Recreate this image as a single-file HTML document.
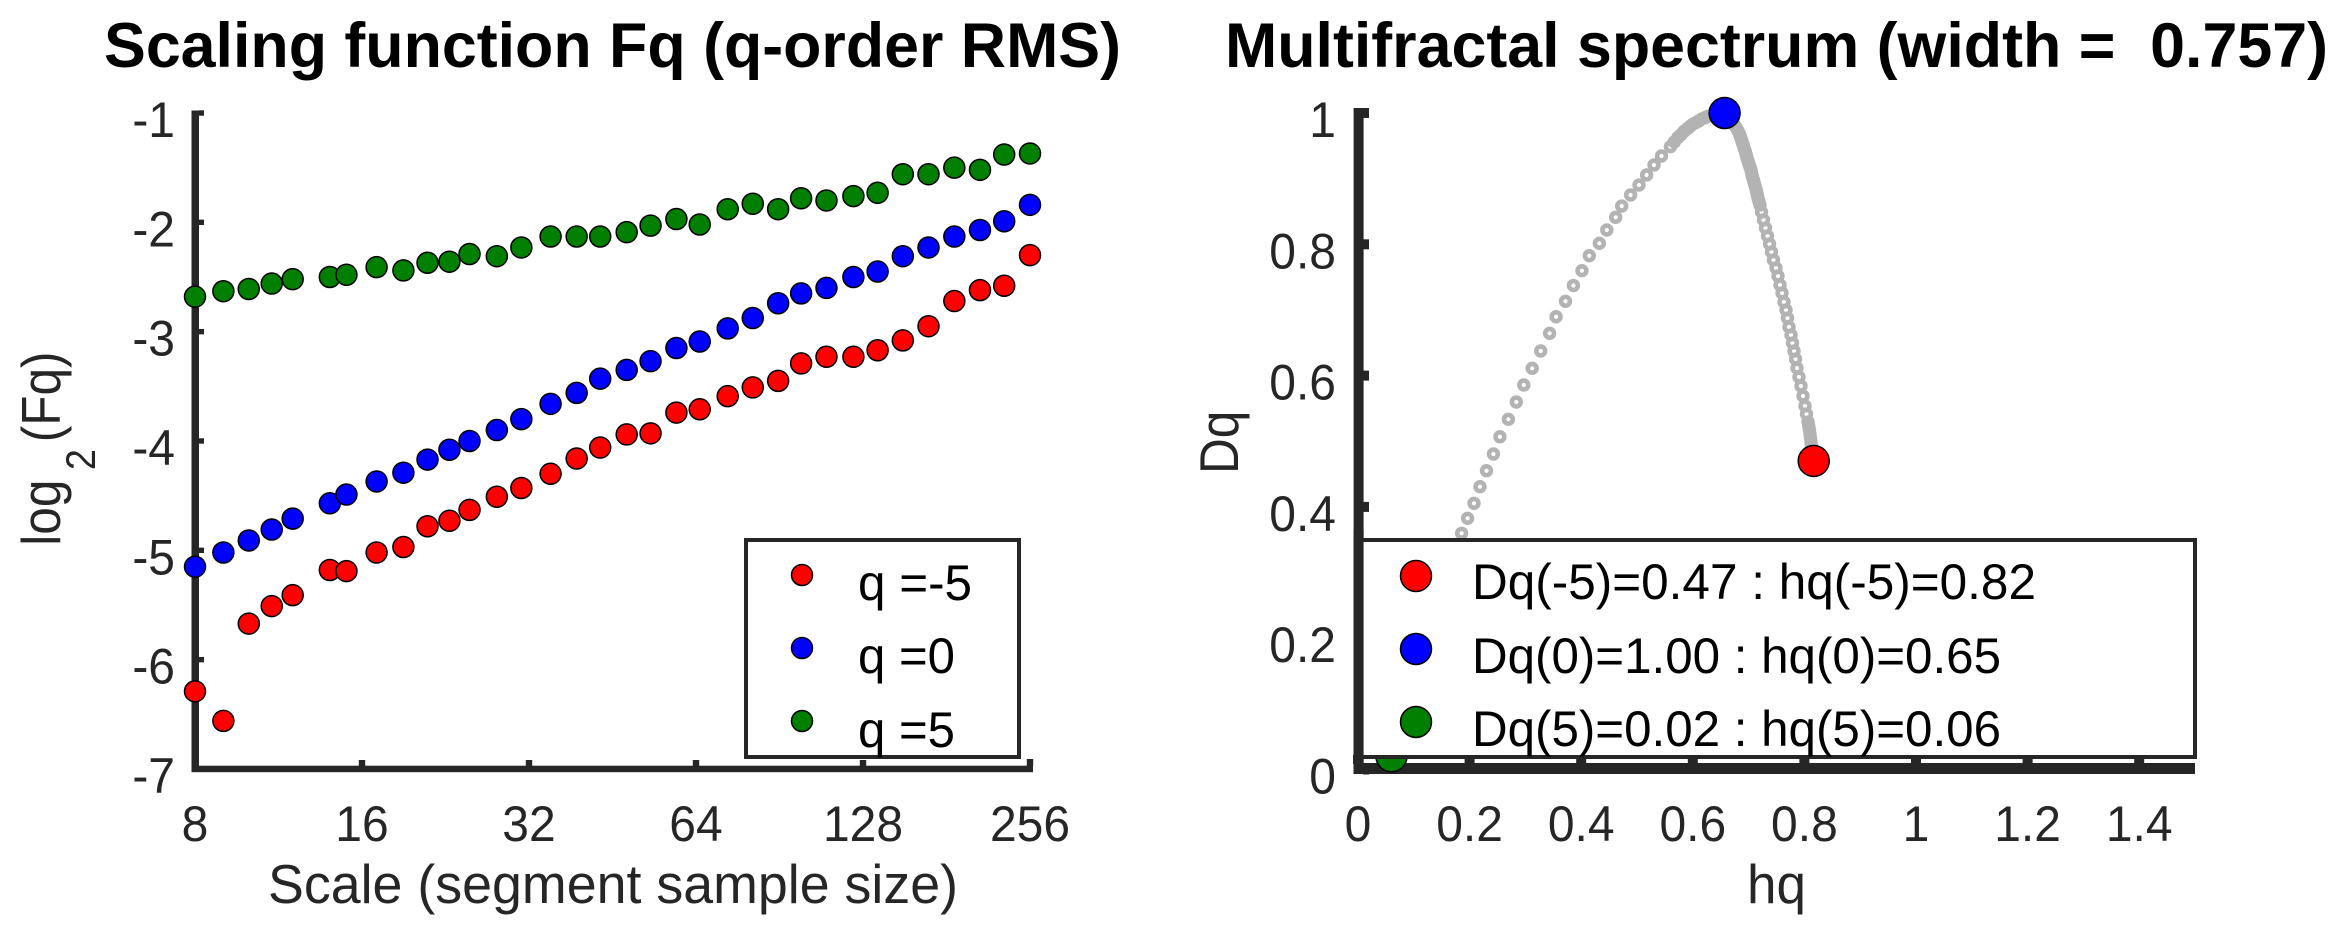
<!DOCTYPE html>
<html lang="en">
<head>
<meta charset="utf-8">
<title>Multifractal scaling and spectrum</title>
<style>
html,body{margin:0;padding:0;background:#fff;width:2337px;height:934px;overflow:hidden}
svg{display:block}
text{font-family:"Liberation Sans",sans-serif;white-space:pre}
</style>
</head>
<body>
<svg id="fig" xmlns="http://www.w3.org/2000/svg" width="2337" height="934" viewBox="0 0 2337 934">
<rect x="0" y="0" width="2337" height="934" fill="#fff"/>

<g id="left-panel">
  <text x="104" y="67" font-size="63" font-weight="bold" fill="#000" textLength="1017" lengthAdjust="spacingAndGlyphs">Scaling function Fq (q-order RMS)</text>
  <g id="left-axes"></g>
  <text x="268" y="903" font-size="55" fill="#262626" textLength="690" lengthAdjust="spacingAndGlyphs">Scale (segment sample size)</text>
  <text transform="translate(60 543) rotate(-90) scale(0.9 1)" font-size="55" fill="#262626"><tspan x="-3">log</tspan><tspan x="81" y="35" font-size="42">2</tspan><tspan x="112" y="0">(Fq)</tspan></text>
  <g id="left-marks"></g>
  <g>
    <rect x="746" y="540" width="273" height="217" fill="#fff" stroke="#262626" stroke-width="4"/>
    <circle cx="802" cy="575" r="10.5" fill="#f00" stroke="#000" stroke-width="1.5"/>
    <text x="858" y="600" font-size="50" fill="#000" textLength="114" lengthAdjust="spacingAndGlyphs">q =-5</text>
    <circle cx="802" cy="648" r="10.5" fill="#00f" stroke="#000" stroke-width="1.5"/>
    <text x="858" y="673" font-size="50" fill="#000" textLength="97" lengthAdjust="spacingAndGlyphs">q =0</text>
    <circle cx="802" cy="721" r="10.5" fill="#007f00" stroke="#000" stroke-width="1.5"/>
    <text x="858" y="747" font-size="50" fill="#000" textLength="97" lengthAdjust="spacingAndGlyphs">q =5</text>
  </g>
</g>

<g id="right-panel">
  <text x="1225" y="67" font-size="63" font-weight="bold" fill="#000" textLength="1103" lengthAdjust="spacingAndGlyphs">Multifractal spectrum (width =  0.757)</text>
  <g id="right-axes"></g>
  <text x="1747" y="903" font-size="55" fill="#262626" textLength="59" lengthAdjust="spacingAndGlyphs">hq</text>
  <text transform="translate(1238 474) rotate(-90) scale(0.9 1)" font-size="55" fill="#262626">Dq</text>
  <g id="right-marks"></g>
  <g>
    <rect x="1360" y="540" width="835" height="217" fill="#fff" stroke="#262626" stroke-width="4"/>
    <circle cx="1416" cy="576" r="15.5" fill="#f00" stroke="#000" stroke-width="1.5"/>
    <text x="1472" y="599" font-size="50" fill="#000" textLength="564" lengthAdjust="spacingAndGlyphs">Dq(-5)=0.47 : hq(-5)=0.82</text>
    <circle cx="1416" cy="649" r="15.5" fill="#00f" stroke="#000" stroke-width="1.5"/>
    <text x="1472" y="673" font-size="50" fill="#000" textLength="529" lengthAdjust="spacingAndGlyphs">Dq(0)=1.00 : hq(0)=0.65</text>
    <circle cx="1416" cy="722" r="15.5" fill="#007f00" stroke="#000" stroke-width="1.5"/>
    <text x="1472" y="746" font-size="50" fill="#000" textLength="529" lengthAdjust="spacingAndGlyphs">Dq(5)=0.02 : hq(5)=0.06</text>
  </g>
  <g id="right-axis-front"></g>
</g>
</svg>

<script>
var scales = [8,9,10,11,12,14,15,17,19,21,23,25,28,31,35,39,43,48,53,59,65,73,81,90,99,110,123,136,151,168,187,208,230,256];
var fqMinus5 = [-6.29,-6.56,-5.67,-5.51,-5.41,-5.18,-5.19,-5.02,-4.97,-4.78,-4.73,-4.63,-4.51,-4.43,-4.30,-4.16,-4.06,-3.94,-3.93,-3.74,-3.71,-3.59,-3.51,-3.45,-3.29,-3.23,-3.23,-3.17,-3.08,-2.95,-2.72,-2.62,-2.58,-2.30];
var fqZero = [-5.15,-5.02,-4.91,-4.81,-4.71,-4.57,-4.49,-4.37,-4.29,-4.17,-4.08,-4.00,-3.90,-3.80,-3.66,-3.56,-3.43,-3.35,-3.27,-3.15,-3.09,-2.97,-2.875,-2.74,-2.65,-2.60,-2.50,-2.45,-2.31,-2.23,-2.13,-2.07,-1.99,-1.84];
var fqPlus5 = [-2.68,-2.63,-2.61,-2.56,-2.52,-2.50,-2.48,-2.41,-2.44,-2.37,-2.36,-2.29,-2.31,-2.23,-2.13,-2.13,-2.13,-2.09,-2.03,-1.97,-2.02,-1.88,-1.83,-1.88,-1.78,-1.80,-1.76,-1.73,-1.56,-1.56,-1.50,-1.52,-1.38,-1.37];
var scaleTicks = [8,16,32,64,128,256];
var fqTicks = [-1,-2,-3,-4,-5,-6,-7];

var hqRising = [0.06,0.09,0.12,0.15,0.175,0.1857,0.1964,0.2079,0.2186,0.2303,0.2427,0.2543,0.2695,0.2837,0.2971,0.3122,0.3274,0.3434,0.3550,0.3719,0.3860,0.4013,0.4145,0.4325,0.4459,0.4618,0.4726,0.4885,0.5036,0.5172,0.5305,0.5439,0.5599,0.567,0.5735,0.579,0.5842,0.59,0.595,0.60,0.6057,0.611,0.6165,0.622,0.6272,0.633,0.638,0.643,0.6487];
var dqRising = [0.02,0.12,0.21,0.29,0.335,0.3598,0.3826,0.4055,0.4308,0.4551,0.4806,0.5069,0.5334,0.5598,0.5857,0.6111,0.6375,0.6644,0.6897,0.7132,0.7372,0.7598,0.7826,0.8015,0.8218,0.8411,0.8583,0.8751,0.8903,0.9056,0.9208,0.9345,0.9487,0.956,0.9627,0.967,0.972,0.976,0.9795,0.983,0.9855,0.988,0.991,0.993,0.9947,0.996,0.9977,0.999,1.0];
var hqFalling = [0.6577,0.662,0.6658,0.669,0.6720,0.675,0.6783,0.681,0.6837,0.6855,0.6873,0.689,0.6909,0.6925,0.6944,0.6958,0.6971,0.699,0.7007,0.7025,0.7043,0.7057,0.7070,0.709,0.7106,0.7125,0.7142,0.7155,0.7168,0.7186,0.7204,0.7231,0.7267,0.7303,0.7339,0.7375,0.7410,0.7446,0.7491,0.7527,0.7563,0.7599,0.7634,0.7670,0.7697,0.7724,0.7760,0.7787,0.7814,0.7841,0.7867,0.7903,0.7939,0.7975,0.8011,0.8038,0.8065,0.8078,0.8091,0.81,0.8109,0.8118,0.8127,0.814,0.8154,0.816,0.8167];
var dqFalling = [1.0,0.996,0.9924,0.9886,0.9848,0.981,0.9772,0.9726,0.9680,0.9634,0.9589,0.9543,0.9497,0.9452,0.9406,0.936,0.9315,0.9269,0.9223,0.9178,0.9132,0.9078,0.9025,0.8972,0.8918,0.8865,0.8812,0.8758,0.8705,0.8652,0.8599,0.8492,0.8370,0.8248,0.8127,0.8005,0.7883,0.7761,0.7639,0.7517,0.7380,0.7258,0.7121,0.6999,0.6877,0.6740,0.6618,0.6496,0.6374,0.6252,0.6115,0.5978,0.5841,0.5689,0.5537,0.5415,0.5293,0.5232,0.5171,0.511,0.5050,0.4989,0.4928,0.4867,0.4806,0.4752,0.4699];
var keyHq = [0.8167,0.657,0.06];
var keyDq = [0.47,1.0,0.02];
var keyColors = ["#f00","#00f","#007f00"];
var hqTicks = [0,0.2,0.4,0.6,0.8,1,1.2,1.4];
var dqTicks = [0,0.2,0.4,0.6,0.8,1];

var NS = "http://www.w3.org/2000/svg";
var AXIS = "#262626";

function sx(s){ return 195 + 167 * Math.log2(s / 8); }
function fy(v){ return 113 + (-1 - v) * 109.33; }
function hx(v){ return 1358 + 558 * v; }
function dy(v){ return 769.5 - 656.5 * v; }

function make(parent, tag, props, txt){
  var el = document.createElementNS(NS, tag);
  for (var k in props) el.setAttribute(k, props[k]);
  if (txt !== undefined) el.textContent = txt;
  parent.appendChild(el);
  return el;
}
function tickText(parent, x, y, anchor, str){
  return make(parent, "text", {transform:"translate(" + x + " " + y + ") scale(0.96 1)", "font-size":50, fill:AXIS, "text-anchor":anchor}, str);
}

var la = document.getElementById("left-axes");
var lm = document.getElementById("left-marks");
var ra = document.getElementById("right-axes");
var rm = document.getElementById("right-marks");

var e;
e = make(la, "rect", {x:191.5, y:110.5, width:7.5, height:661.5, fill:AXIS});


e = make(la, "rect", {x:191.5, y:765.7, width:841.5, height:6.5, fill:AXIS});



fqTicks.forEach(function(v){
  var y = fy(v);
  var t = make(la, "rect", {x:199, y:y-2.7, width:5, height:5.4, fill:AXIS});
  
  
  var l = tickText(la, 175, y + 24, "end", String(v));
  
  
});
scaleTicks.forEach(function(s){
  var x = sx(s);
  if (s !== 8) {
    var t = make(la, "rect", {x:x-3.2, y:(s === 256 ? 759 : 760), width:6.4, height:7, fill:AXIS});
    
    
  }
  var l = tickText(la, x, 841, "middle", String(s));
  
  
});

function drawSeries(vals, color){
  vals.forEach(function(v, i){
    var c = make(lm, "circle", {cx:sx(scales[i]), cy:fy(v), r:10.5, fill:color, stroke:"#000", "stroke-width":1.5});
    
    
  });
}
drawSeries(fqMinus5, "#f00");
drawSeries(fqZero, "#00f");
drawSeries(fqPlus5, "#007f00");

e = make(ra, "rect", {x:1353.6, y:108, width:10, height:666, fill:AXIS});


e = make(ra, "rect", {x:1353.6, y:763, width:841.4, height:11, fill:AXIS});



dqTicks.forEach(function(v){
  var y = dy(v);
  var t = make(ra, "rect", {x:1363, y:y-5, width:6, height:10, fill:AXIS});
  
  
  var l = tickText(ra, 1336, y + 24, "end", String(v));
  
  
});
hqTicks.forEach(function(v){
  var x = hx(v);
  var t = make(ra, "rect", {x:x-5, y:755, width:10, height:9, fill:AXIS});
  
  
  var l = tickText(ra, x, 841, "middle", String(v));
  
  
});

function drawSpectrum(hs, ds){
  hs.forEach(function(h, i){
    var c = make(rm, "circle", {cx:hx(h), cy:dy(ds[i]), r:4.4, fill:"none", stroke:"#b3b3b3", "stroke-width":4.6});
    
    
  });
}
drawSpectrum(hqRising, dqRising);
drawSpectrum(hqFalling, dqFalling);

keyHq.forEach(function(h, i){
  var c = make(rm, "circle", {cx:hx(h), cy:dy(keyDq[i]), r:15.5, fill:keyColors[i], stroke:"#000", "stroke-width":1.5});
  
  
});

var front = document.getElementById("right-axis-front");
e = make(front, "rect", {x:1353.6, y:530, width:10, height:244, fill:AXIS});


</script>
</body>
</html>
